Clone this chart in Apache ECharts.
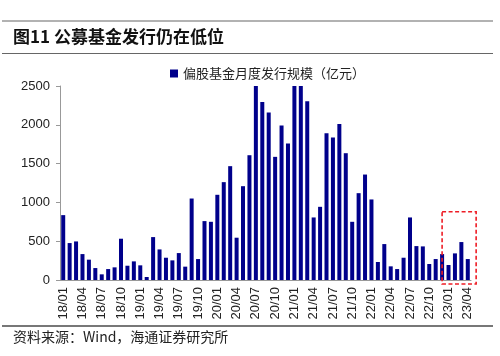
<!DOCTYPE html>
<html><head><meta charset="utf-8">
<script src="https://cdn.jsdelivr.net/npm/echarts@6/dist/echarts.min.js"></script>
<style>html,body{margin:0;padding:0;background:#fff}#c{width:500px;height:356px}</style>
</head><body><div id="c"></div>
<script>
const categories = [
 '18/01','18/02','18/03','18/04','18/05','18/06','18/07','18/08','18/09','18/10','18/11','18/12',
 '19/01','19/02','19/03','19/04','19/05','19/06','19/07','19/08','19/09','19/10','19/11','19/12',
 '20/01','20/02','20/03','20/04','20/05','20/06','20/07','20/08','20/09','20/10','20/11','20/12',
 '21/01','21/02','21/03','21/04','21/05','21/06','21/07','21/08','21/09','21/10','21/11','21/12',
 '22/01','22/02','22/03','22/04','22/05','22/06','22/07','22/08','22/09','22/10','22/11','22/12',
 '23/01','23/02','23/03','23/04'];
const issuance = [
 836,476,497,334,262,154,73,141,163,532,184,240,
 189,39,553,394,287,253,347,172,1050,270,759,750,
 1098,1261,1467,545,1209,1608,2900,2294,2157,1587,1990,1758,
 3600,2800,2303,806,943,1891,1835,2011,1634,750,1119,1359,
 1038,232,463,176,141,287,806,437,433,206,270,334,
 193,343,489,270];
const yTicks = {min:0, max:2500, interval:500};
const seriesName = '偏股基金月度发行规模（亿元）';
const boxRange = ['23/01','23/04'];
const boxTop = 880;

const chart = echarts.init(document.getElementById('c'));
const font = '"Liberation Sans", Arial, sans-serif';
const cjk = '"Noto Sans CJK SC", sans-serif';
chart.setOption({
  animation:false,
  grid:{left:60, right:29, top:86, bottom:76},
  legend:{top:62, left:165, itemWidth:8, itemHeight:8, itemGap:4,
    textStyle:{fontFamily:cjk, fontSize:13, color:'#222'},
    data:[{name:seriesName, icon:'rect'}]},
  xAxis:{type:'category', data:categories,
    axisLine:{lineStyle:{color:'#999'}},
    axisTick:{interval:2, length:4, lineStyle:{color:'#999'}},
    axisLabel:{interval:2, rotate:90, margin:7, fontFamily:font, fontSize:13, color:'#222'}},
  yAxis:{type:'value', min:yTicks.min, max:yTicks.max, interval:yTicks.interval,
    splitLine:{show:false},
    axisLine:{show:true, lineStyle:{color:'#999'}},
    axisTick:{show:true, length:4, lineStyle:{color:'#999'}},
    axisLabel:{margin:10, fontFamily:font, fontSize:13, color:'#222', formatter:v => String(v)}},
  series:[{name:seriesName, type:'bar', data:issuance, barWidth:4, clip:true,
    itemStyle:{color:'#00008b'}}]
});

const p0 = chart.convertToPixel({gridIndex:0}, [boxRange[0], boxTop]);
const p1 = chart.convertToPixel({gridIndex:0}, [boxRange[1], 0]);
const band = 411/categories.length;
chart.setOption({graphic:[
  {type:'line', shape:{x1:2,y1:21,x2:493,y2:21}, style:{stroke:'#666', lineWidth:1.2}},
  {type:'line', shape:{x1:2,y1:53.5,x2:493,y2:53.5}, style:{stroke:'#666', lineWidth:1.2}},
  {type:'line', shape:{x1:2,y1:326,x2:493,y2:326}, style:{stroke:'#777', lineWidth:2.2}},
  {type:'text', left:13, top:28, style:{text:'图11 公募基金发行仍在低位', font:'bold 17px "Noto Sans CJK SC", sans-serif', fill:'#111'}},
  {type:'text', left:13, top:330, style:{text:'资料来源：Wind，海通证券研究所', font:'14px "Noto Sans CJK SC", sans-serif', fill:'#222'}},
  {type:'rect', shape:{x:p0[0]-band, y:p0[1], width:(p1[0]+band*1.3)-(p0[0]-band), height:(p1[1]+4)-p0[1]},
    style:{fill:'none', stroke:'#ee1c25', lineWidth:1.6, lineDash:[4,2.5]}, z:10}
]});
</script></body></html>
